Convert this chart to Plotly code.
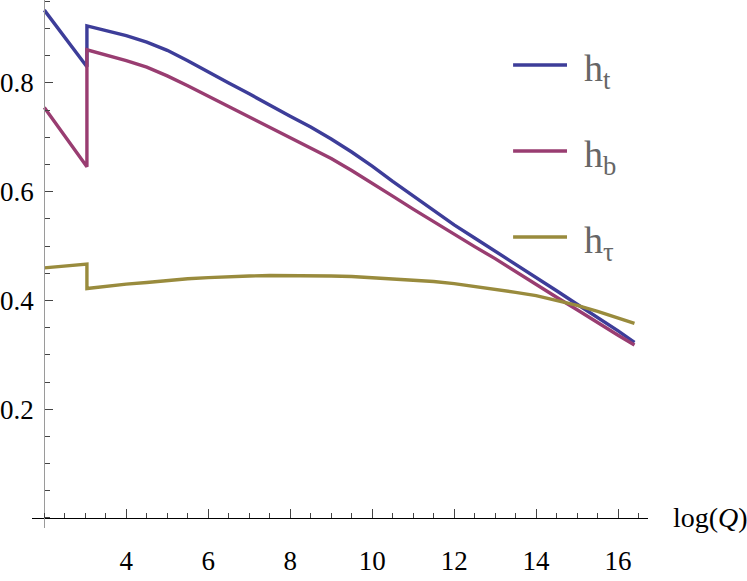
import plotly.graph_objects as go

log_q = [2.0, 2.5, 3.04, 3.04, 3.5, 4.0, 4.5, 5.0, 5.5, 6.0, 6.5, 7.0, 7.5, 8.0,
         8.5, 9.0, 9.5, 10.0, 10.5, 11.0, 11.5, 12.0, 12.5, 13.0, 13.5, 14.0,
         14.5, 15.0, 15.5, 16.0, 16.4]

h_t = [0.934, 0.884, 0.830, 0.905, 0.897, 0.887, 0.875, 0.860, 0.841, 0.820,
       0.800, 0.780, 0.759, 0.739, 0.719, 0.697, 0.673, 0.647, 0.619, 0.592,
       0.565, 0.539, 0.515, 0.491, 0.467, 0.443, 0.418, 0.393, 0.369, 0.344, 0.323]
h_b = [0.755, 0.703, 0.646, 0.861, 0.852, 0.841, 0.829, 0.813, 0.795, 0.776,
       0.757, 0.738, 0.718, 0.700, 0.681, 0.661, 0.639, 0.616, 0.592, 0.568,
       0.545, 0.521, 0.499, 0.477, 0.453, 0.429, 0.406, 0.383, 0.359, 0.336, 0.318]
h_tau = [0.460, 0.463, 0.467, 0.422, 0.426, 0.430, 0.433, 0.437, 0.440, 0.442,
         0.444, 0.445, 0.446, 0.446, 0.446, 0.445, 0.444, 0.442, 0.440, 0.438,
         0.435, 0.431, 0.426, 0.421, 0.415, 0.409, 0.400, 0.391, 0.380, 0.368, 0.358]

series_names = ["h<sub>t</sub>", "h<sub>b</sub>", "h<sub>τ</sub>"]
series_colors = ["#3d3d99", "#993d71", "#998b3d"]

x_ticks = [4, 6, 8, 10, 12, 14, 16]
y_ticks = [0.2, 0.4, 0.6, 0.8]

X_RANGE = [1.70, 16.73]
Y_RANGE = [-0.0184, 0.9526]

SERIF = "Liberation Serif"

fig = go.Figure()
for ys, name, color in zip([h_t, h_b, h_tau], series_names, series_colors):
    fig.add_trace(go.Scatter(
        x=log_q, y=ys, mode="lines", name=name,
        line=dict(color=color, width=3.4),
        showlegend=False
    ))

# where the axes cross (x=2, y=0) in paper fractions
y_axis_pos = (2 - X_RANGE[0]) / (X_RANGE[1] - X_RANGE[0])
x_axis_pos = (0 - Y_RANGE[0]) / (Y_RANGE[1] - Y_RANGE[0])

tick_font = dict(family=SERIF, size=27, color="black")

fig.update_layout(
    template="none",
    font=dict(family=SERIF, size=27, color="black"),
    width=747, height=581,
    margin=dict(l=32, r=99, t=0, b=53),
    plot_bgcolor="white", paper_bgcolor="white",
    xaxis=dict(
        range=X_RANGE, anchor="free", position=x_axis_pos, automargin=False,
        showgrid=False, zeroline=False,
        showline=True, linecolor="black", linewidth=1.3,
        tickmode="array", tickvals=x_ticks,
        ticks="inside", ticklen=9, tickcolor="#444", tickwidth=1,
        ticklabelstandoff=18,
        tickfont=tick_font,
        minor=dict(tick0=0, dtick=0.5, ticks="inside", ticklen=5,
                   tickcolor="#444", showgrid=False)
    ),
    yaxis=dict(
        range=Y_RANGE, anchor="free", position=y_axis_pos, automargin=False,
        showgrid=False, zeroline=False,
        showline=True, linecolor="#9a9a9a", linewidth=1.3,
        tickmode="array", tickvals=y_ticks, tickformat=".1f",
        ticks="inside", ticklen=8, tickcolor="#444", tickwidth=1,
        ticklabelstandoff=5,
        tickfont=tick_font,
        minor=dict(tick0=0, dtick=0.05, ticks="inside", ticklen=5,
                   tickcolor="#444", showgrid=False)
    ),
)

# axis label at the right end of the x axis
fig.add_annotation(
    x=1.037, y=x_axis_pos, xref="paper", yref="paper",
    text="log(<i>Q</i>)", showarrow=False,
    xanchor="left", yanchor="middle",
    font=dict(family=SERIF, size=28, color="black")
)

# hand-drawn legend, as in the original
legend_y = [0.877, 0.714, 0.551]
for name, color, ly in zip(series_names, series_colors, legend_y):
    fig.add_shape(type="line", xref="paper", yref="paper",
                  x0=0.781, x1=0.8685, y0=ly, y1=ly,
                  line=dict(color=color, width=3.4))
    fig.add_annotation(
        x=0.893, y=ly - 0.012, xref="paper", yref="paper",
        text=name, showarrow=False, xanchor="left", yanchor="middle",
        font=dict(family=SERIF, size=38, color="#666666")
    )

# drop the default 8px body margin so the figure sits at the page corner
fig.write_html("out.html", config={"displayModeBar": False},
               post_script="document.body.style.margin='0px';")
